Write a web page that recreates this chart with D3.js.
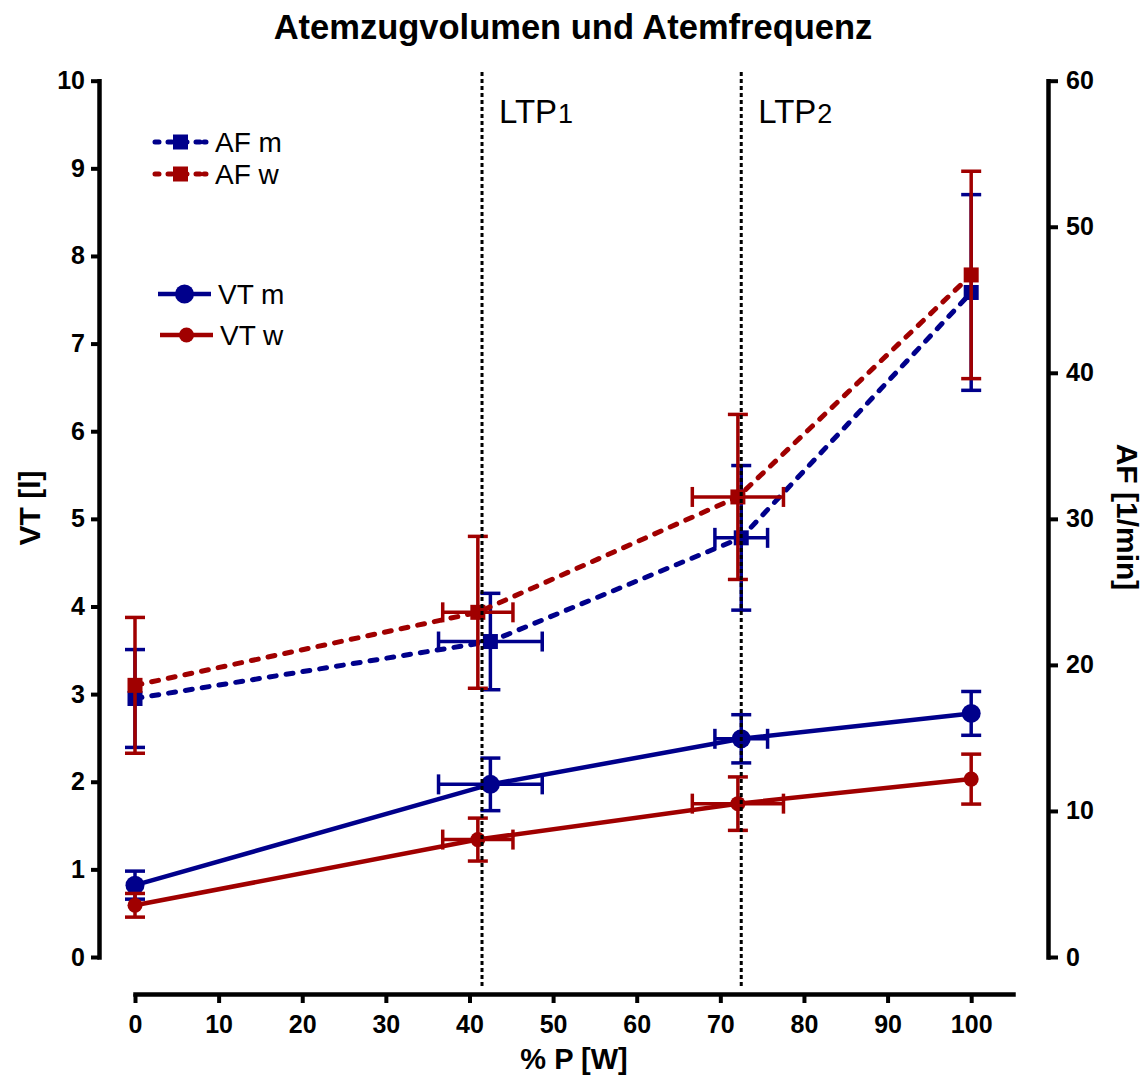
<!DOCTYPE html>
<html>
<head>
<meta charset="utf-8">
<script src="https://cdn.jsdelivr.net/npm/d3@7"></script>
<style>
  body { margin: 0; background: #fff; }
  svg { font-family: "Liberation Sans", Arial, sans-serif; }
</style>
</head>
<body>
<div id="wrapper"></div>
<script>
// % of max power (x) with horizontal SD
const pctM = [0, 42.5, 72.5, 100]
const pctMErr = [0, 6.2, 3.15, 0]
const pctW = [0, 41.0, 72.1, 100]
const pctWErr = [0, 4.2, 5.45, 0]

// tidal volume VT [l], left axis
const vtM = [0.82, 1.97, 2.49, 2.78]
const vtMErr = [0.16, 0.30, 0.275, 0.25]
const vtW = [0.59, 1.34, 1.75, 2.03]
const vtWErr = [0.135, 0.245, 0.305, 0.285]

// breathing frequency AF [1/min], right axis
const afM = [17.7, 21.6, 28.7, 45.5]
const afMErr = [3.35, 3.3, 4.95, 6.7]
const afW = [18.6, 23.6, 31.5, 46.7]
const afWErr = [4.65, 5.2, 5.65, 7.1]

const ltpValues = [41.5, 72.5]
const ltpNames = ["1", "2"]

const xTicks = [0, 10, 20, 30, 40, 50, 60, 70, 80, 90, 100]
const leftTicks = [0, 1, 2, 3, 4, 5, 6, 7, 8, 9, 10]
const rightTicks = [0, 10, 20, 30, 40, 50, 60]

const blue = "#00008b"
const red = "#a00000"

const dimensions = {
  width: 1148,
  height: 1077,
  plotLeft: 135,
  plotRight: 1013,
  plotTop: 80.7,
  plotBottom: 957,
  leftAxisX: 99,
  rightAxisX: 1048,
  bottomAxisY: 994
}

const svg = d3.select("#wrapper")
  .append("svg")
    .attr("width", dimensions.width)
    .attr("height", dimensions.height)

const xScale = d3.scaleLinear()
  .domain([0, 105])
  .range([dimensions.plotLeft, dimensions.plotRight])

const yLeft = d3.scaleLinear()
  .domain([0, 10])
  .range([dimensions.plotBottom, dimensions.plotTop])

const yRight = d3.scaleLinear()
  .domain([0, 60])
  .range([dimensions.plotBottom, dimensions.plotTop])

// axes
function styleAxis(g, size) {
  g.select(".domain").attr("stroke-width", 4.5).attr("stroke-linecap", "square")
  g.selectAll(".tick line").attr("stroke-width", 4)
  g.selectAll(".tick text")
    .attr("font-family", "'Liberation Sans', Arial, sans-serif")
    .attr("font-weight", "bold")
    .attr("font-size", size)
    .attr("fill", "#000")
}

const leftAxis = svg.append("g")
  .attr("transform", `translate(${dimensions.leftAxisX},0)`)
  .call(d3.axisLeft(yLeft).tickValues(leftTicks).tickSize(8).tickSizeOuter(0).tickPadding(6))
styleAxis(leftAxis, 25)

const rightAxis = svg.append("g")
  .attr("transform", `translate(${dimensions.rightAxisX},0)`)
  .call(d3.axisRight(yRight).tickValues(rightTicks).tickSize(10).tickSizeOuter(0).tickPadding(8))
styleAxis(rightAxis, 25)

const bottomAxis = svg.append("g")
  .attr("transform", `translate(0,${dimensions.bottomAxisY})`)
  .call(d3.axisBottom(xScale).tickValues(xTicks).tickSize(9).tickSizeOuter(0).tickPadding(12))
styleAxis(bottomAxis, 25)

// titles
svg.append("text")
  .attr("x", 573)
  .attr("y", 39)
  .attr("text-anchor", "middle")
  .attr("font-weight", "bold")
  .attr("font-size", 34.5)
  .text("Atemzugvolumen und Atemfrequenz")

svg.append("text")
  .attr("x", 574)
  .attr("y", 1069)
  .attr("text-anchor", "middle")
  .attr("font-weight", "bold")
  .attr("font-size", 29)
  .text("% P [W]")

svg.append("text")
  .attr("transform", "translate(40,508) rotate(-90)")
  .attr("text-anchor", "middle")
  .attr("font-weight", "bold")
  .attr("font-size", 30)
  .text("VT [l]")

svg.append("text")
  .attr("transform", "translate(1117,517) rotate(90)")
  .attr("text-anchor", "middle")
  .attr("font-weight", "bold")
  .attr("font-size", 30)
  .text("AF [1/min]")

// series
const series = [
  { name: "AF m", x: pctM, xErr: pctMErr, y: afM, yErr: afMErr, scale: yRight, color: blue, dashed: true, marker: "square", size: 15 },
  { name: "AF w", x: pctW, xErr: pctWErr, y: afW, yErr: afWErr, scale: yRight, color: red, dashed: true, marker: "square", size: 15 },
  { name: "VT m", x: pctM, xErr: pctMErr, y: vtM, yErr: vtMErr, scale: yLeft, color: blue, dashed: false, marker: "circle", size: 9.5 },
  { name: "VT w", x: pctW, xErr: pctWErr, y: vtW, yErr: vtWErr, scale: yLeft, color: red, dashed: false, marker: "circle", size: 7.5 }
]

const capHalf = 10

function drawMarker(g, s, cx, cy) {
  if (s.marker === "square") {
    g.append("rect")
      .attr("x", cx - s.size / 2)
      .attr("y", cy - s.size / 2)
      .attr("width", s.size)
      .attr("height", s.size)
      .attr("fill", s.color)
  } else {
    g.append("circle")
      .attr("cx", cx)
      .attr("cy", cy)
      .attr("r", s.size)
      .attr("fill", s.color)
  }
}

for (const s of series) {
  const g = svg.append("g")
  const pts = s.x.map((d, i) => [d, s.y[i]])

  const line = d3.line()
    .x(d => xScale(d[0]))
    .y(d => s.scale(d[1]))

  g.append("path")
    .datum(pts)
    .attr("d", line)
    .attr("fill", "none")
    .attr("stroke", s.color)
    .attr("stroke-width", s.dashed ? 5 : 4.5)
    .attr("stroke-linecap", s.dashed ? "round" : "butt")
    .attr("stroke-dasharray", s.dashed ? "7,10" : null)

  pts.forEach((d, i) => {
    const cx = xScale(d[0])
    const cy = s.scale(d[1])
    const yTop = s.scale(d[1] + s.yErr[i])
    const yBot = s.scale(d[1] - s.yErr[i])
    const eg = g.append("g")
      .attr("stroke", s.color)
      .attr("stroke-width", 3.5)

    eg.append("line").attr("x1", cx).attr("x2", cx).attr("y1", yTop).attr("y2", yBot)
    eg.append("line").attr("x1", cx - capHalf).attr("x2", cx + capHalf).attr("y1", yTop).attr("y2", yTop)
    eg.append("line").attr("x1", cx - capHalf).attr("x2", cx + capHalf).attr("y1", yBot).attr("y2", yBot)

    if (s.xErr[i] > 0) {
      const xl = xScale(d[0] - s.xErr[i])
      const xr = xScale(d[0] + s.xErr[i])
      eg.append("line").attr("x1", xl).attr("x2", xr).attr("y1", cy).attr("y2", cy)
      eg.append("line").attr("x1", xl).attr("x2", xl).attr("y1", cy - capHalf).attr("y2", cy + capHalf)
      eg.append("line").attr("x1", xr).attr("x2", xr).attr("y1", cy - capHalf).attr("y2", cy + capHalf)
    }

    drawMarker(g, s, cx, cy)
  })
}

// LTP threshold lines
ltpValues.forEach((v, i) => {
  svg.append("line")
    .attr("x1", xScale(v))
    .attr("x2", xScale(v))
    .attr("y1", 72)
    .attr("y2", 989)
    .attr("stroke", "#000")
    .attr("stroke-width", 3)
    .attr("stroke-dasharray", "4,3")

  const t = svg.append("text")
    .attr("x", xScale(v) + 17)
    .attr("y", 123)
    .attr("font-size", 33)
    .text("LTP")
  t.append("tspan")
    .attr("font-size", 27)
    .attr("dx", 1)
    .text(ltpNames[i])
})

// legend
const legendRows = [
  { s: series[0], y: 142, x0: 153, x1: 208, tx: 215 },
  { s: series[1], y: 174, x0: 153, x1: 208, tx: 215 },
  { s: series[2], y: 294, x0: 158, x1: 211, tx: 218 },
  { s: series[3], y: 335, x0: 160, x1: 213, tx: 220 }
]

for (const row of legendRows) {
  const g = svg.append("g")
  g.append("line")
    .attr("x1", row.x0 + (row.s.dashed ? 2 : 0))
    .attr("x2", row.x1 - (row.s.dashed ? 2 : 0))
    .attr("y1", row.y)
    .attr("y2", row.y)
    .attr("stroke", row.s.color)
    .attr("stroke-width", row.s.dashed ? 5 : 4.5)
    .attr("stroke-linecap", row.s.dashed ? "round" : "butt")
    .attr("stroke-dasharray", row.s.dashed ? "4,9,4,11,4,9,4" : null)
  drawMarker(g, row.s, (row.x0 + row.x1) / 2, row.y)
  g.append("text")
    .attr("x", row.tx)
    .attr("y", row.y + 10)
    .attr("font-size", 28)
    .text(row.s.name)
}
</script>
</body>
</html>
